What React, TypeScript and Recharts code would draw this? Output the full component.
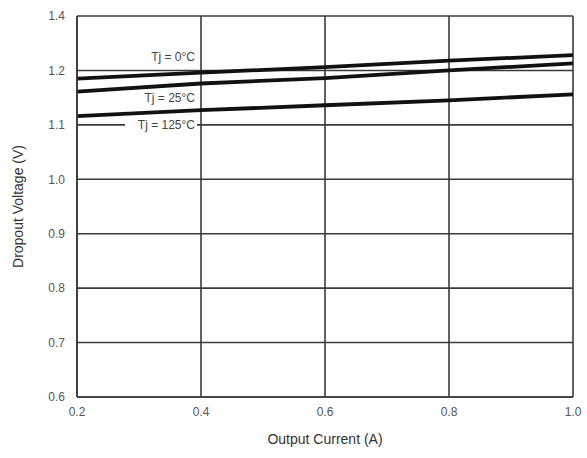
import React from 'react';
import {
  LineChart,
  Line,
  XAxis,
  YAxis,
  CartesianGrid,
  ReferenceDot,
} from 'recharts';

// output current (A)
const currents = [0.2, 0.4, 0.6, 0.8, 1.0];

// dropout voltage (V) per junction temperature
const tj0 = [1.185, 1.196, 1.206, 1.218, 1.228];
const tj25 = [1.161, 1.176, 1.186, 1.2, 1.213];
const tj125 = [1.116, 1.127, 1.136, 1.145, 1.156];

const xTicks = [0.2, 0.4, 0.6, 0.8, 1.0];
const yTicks = [0.6, 0.7, 0.8, 0.9, 1.0, 1.1, 1.2, 1.3];
// labels as printed on the original sheet (top line reads 1.4)
const yTickLabels = ['0.6', '0.7', '0.8', '0.9', '1.0', '1.1', '1.2', '1.4'];

// curve label anchors (x, y in data units)
const curveLabels = [
  { text: 'Tj = 0°C', x: 0.4, y: 1.224 },
  { text: 'Tj = 25°C', x: 0.4, y: 1.15 },
  { text: 'Tj = 125°C', x: 0.4, y: 1.1 },
];

const data = currents.map((c, i) => ({
  current: c,
  tj0: tj0[i],
  tj25: tj25[i],
  tj125: tj125[i],
}));

const gridColor = '#3a3a3a';
const font = '"Liberation Sans", Arial, sans-serif';

const CurveLabel = (props: any) => {
  const { viewBox, value } = props;
  const x = viewBox.x;
  const y = viewBox.y;
  return (
    <g>
      <rect x={x - 76} y={y - 6} width={72} height={12} fill='#fff' />
      <text
        x={x - 6}
        y={y}
        textAnchor='end'
        dominantBaseline='central'
        fontSize={12}
        fill='#444'
        fontFamily={font}
      >
        {value}
      </text>
    </g>
  );
};

const App: React.FC = () => {
  return (
    <div
      style={{
        position: 'absolute',
        left: 0,
        top: 0,
        width: 587,
        height: 458,
        background: '#fff',
        fontFamily: font,
      }}
    >
      <LineChart
        width={587}
        height={458}
        data={data}
        margin={{ top: 16, right: 14, left: 0, bottom: 0 }}
      >
        <CartesianGrid
          stroke={gridColor}
          strokeWidth={1.6}
          horizontalValues={yTicks}
          verticalValues={xTicks}
        />
        <XAxis
          dataKey='current'
          type='number'
          domain={[0.2, 1.0]}
          ticks={xTicks}
          allowDataOverflow
          tickFormatter={(v: number) => v.toFixed(1)}
          tickLine={false}
          axisLine={{ stroke: gridColor, strokeWidth: 1.6 }}
          tick={{ fill: '#555', fontSize: 12, fontFamily: font }}
          tickMargin={4}
          height={61}
          label={{
            value: 'Output Current (A)',
            position: 'insideBottom',
            offset: 14,
            fill: '#333',
            fontSize: 14,
            fontFamily: font,
          }}
        />
        <YAxis
          type='number'
          domain={[0.6, 1.3]}
          ticks={yTicks}
          allowDataOverflow
          tickFormatter={(v: number) => yTickLabels[yTicks.findIndex((t) => Math.abs(t - v) < 1e-6)] ?? ''}
          tickLine={false}
          axisLine={{ stroke: gridColor, strokeWidth: 1.6 }}
          tick={{ fill: '#555', fontSize: 12, fontFamily: font }}
          tickMargin={6}
          width={77}
          label={{
            value: 'Dropout Voltage (V)',
            angle: -90,
            position: 'insideLeft',
            offset: 18,
            style: { textAnchor: 'middle' },
            fill: '#333',
            fontSize: 14,
            fontFamily: font,
          }}
        />
        <Line
          dataKey='tj0'
          stroke='#111'
          strokeWidth={3.8}
          dot={false}
          isAnimationActive={false}
        />
        <Line
          dataKey='tj25'
          stroke='#111'
          strokeWidth={3.8}
          dot={false}
          isAnimationActive={false}
        />
        <Line
          dataKey='tj125'
          stroke='#111'
          strokeWidth={3.8}
          dot={false}
          isAnimationActive={false}
        />
        {curveLabels.map((l) => (
          <ReferenceDot
            key={l.text}
            x={l.x}
            y={l.y}
            r={0}
            stroke='none'
            fill='none'
            label={<CurveLabel value={l.text} />}
          />
        ))}
      </LineChart>
    </div>
  );
};

export default App;
